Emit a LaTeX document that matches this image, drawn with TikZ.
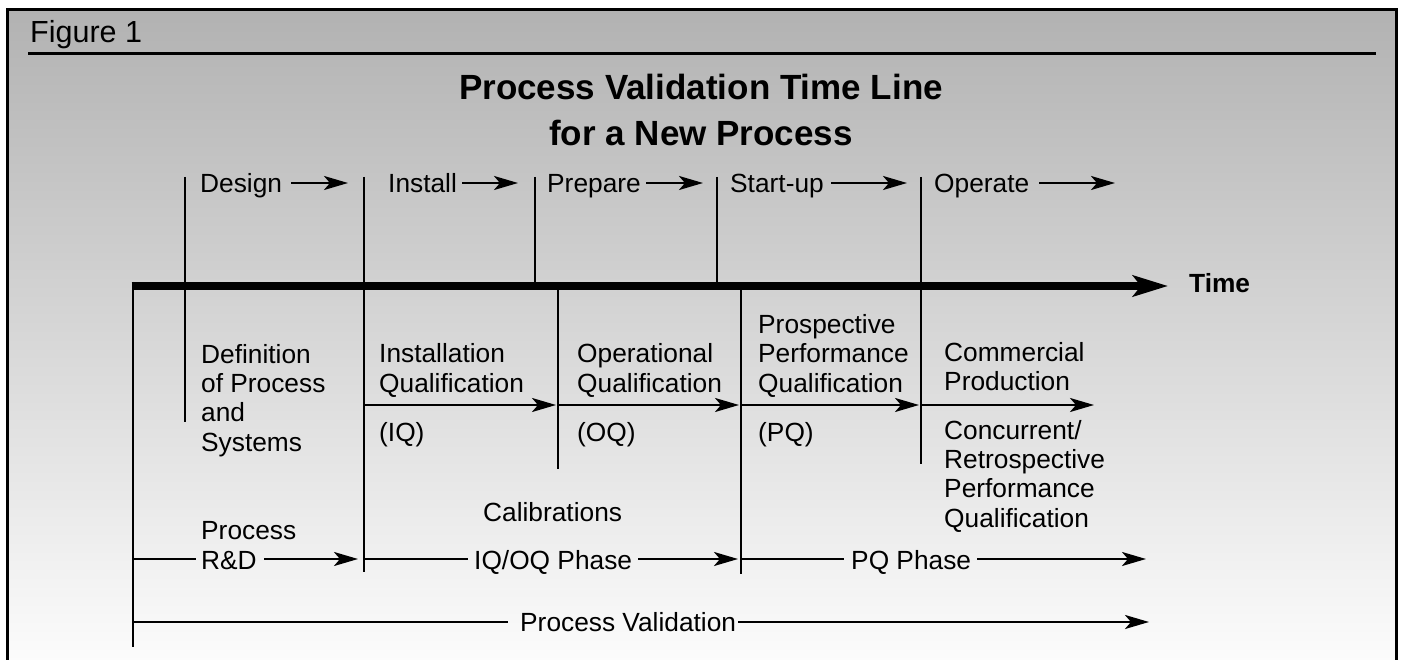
\documentclass[tikz,border=0pt]{standalone}
\usepackage{fontspec}
\setmainfont{Liberation Sans}
\usetikzlibrary{arrows.meta}

\definecolor{bgtop}{RGB}{178,178,178}
\definecolor{bgbot}{RGB}{254,254,254}

\begin{document}
\begin{tikzpicture}[x=1pt,y=-1pt,
  lbl/.style={inner sep=0pt, anchor=base west, align=left,
              font=\fontsize{26.3}{29.3}\selectfont},
  marker/.style={line width=2.8pt},
  rule/.style={line width=2.6pt},
  flow/.style={line width=2.6pt, -{Stealth[length=24pt,width=14pt,inset=6pt]}},
  axis/.style={line width=8pt, -{Stealth[length=35pt,width=21pt,inset=8pt]}},
]
\useasboundingbox (0,0) rectangle (1401,660);

% panel with its grey-to-white fade and frame
\shade[top color=bgtop, bottom color=bgbot] (7,9.5) rectangle (1396,680);
\draw[line width=3pt] (7,680) -- (7,9.5) -- (1396,9.5) -- (1396,680);

% caption and rule
\node[inner sep=0pt, anchor=base west, font=\fontsize{30.5}{34}\selectfont] (fig) at (30,43) {Figure 1};
\coordinate (ruleL) at (28,53.5);
\coordinate (ruleR) at (1376,53.5);
\draw[line width=3pt] (ruleL) -- (ruleR);

% title (multi-line nodes sit on the baseline of their last line)
\node[inner sep=0pt, anchor=base, align=center, font=\fontsize{35}{46}\selectfont\bfseries]
  (title) at (701,146) {Process Validation Time Line\\for a New Process};

% phase markers
\coordinate (vDt) at (185,177);  \coordinate (vDb) at (185,422);
\coordinate (vIt) at (364,177);  \coordinate (vIb) at (364,572);
\coordinate (vPt) at (535,177);  \coordinate (vPb) at (535,286);
\coordinate (vSt) at (717,177);  \coordinate (vSb) at (717,286);
\coordinate (vOt) at (921,177);  \coordinate (vOb) at (921,464);
\coordinate (vQt) at (558,286);  \coordinate (vQb) at (558,469);
\coordinate (vRt) at (741,286);  \coordinate (vRb) at (741,574);
\coordinate (vLt) at (133,282);  \coordinate (vLb) at (133,647);
\foreach \m in {D,I,P,S,O,Q,R,L} \draw[marker] (v\m t) -- (v\m b);

% time axis
\coordinate (axisL) at (131.6,286);
\coordinate (axisR) at (1168,286);
\draw[axis] (axisL) -- (axisR);
\node[lbl, font=\fontsize{26.3}{29.3}\selectfont\bfseries] (time) at (1189,293) {Time};

% stage labels above the axis
\node[lbl] (design)  at (200,193) {Design};
\node[lbl] (install) at (388,193) {Install};
\node[lbl] (prepare) at (547,193) {Prepare};
\node[lbl] (startup) at (730,193) {Start-up};
\node[lbl] (operate) at (934,193) {Operate};
\coordinate (designTip)  at (348,183);
\coordinate (installTip) at (518,183);
\coordinate (prepareTip) at (703,183);
\coordinate (startupTip) at (907,183);
\coordinate (operateTip) at (1115,183);
\draw[flow] (291,183) -- (designTip);
\draw[flow] (462,183) -- (installTip);
\draw[flow] (646,183) -- (prepareTip);
\draw[flow] (831,183) -- (startupTip);
\draw[flow] (1039,183) -- (operateTip);

% qualification stages below the axis
\node[lbl] (defn)   at (201,451) {Definition\\of Process\\and\\Systems};
\node[lbl] (iq)     at (379,392) {Installation\\Qualification};
\node[lbl] (iqabbr) at (379,441) {(IQ)};
\node[lbl] (oq)     at (577,392) {Operational\\Qualification};
\node[lbl] (oqabbr) at (577,441) {(OQ)};
\node[lbl] (pq)     at (758,392) {Prospective\\Performance\\Qualification};
\node[lbl] (pqabbr) at (758,441) {(PQ)};
\node[lbl] (comm)   at (944,391) {Commercial\\Production};
\node[lbl] (conc)   at (944,527) {Concurrent/\\Retrospective\\Performance\\Qualification};
\coordinate (iqTip)   at (556,405);
\coordinate (oqTip)   at (739,405);
\coordinate (pqTip)   at (919,405);
\coordinate (commTip) at (1094,405);
\draw[flow] (vIt |- iqTip) -- (iqTip);
\draw[flow] (vQt |- oqTip) -- (oqTip);
\draw[flow] (vRt |- pqTip) -- (pqTip);
\draw[flow] (vOt |- commTip) -- (commTip);

% phase bars
\node[lbl] (calib) at (483,521) {Calibrations};
\node[lbl] (rnd)   at (201,569) {Process\\R\&D};
\node[lbl] (iqoq)  at (474,569) {IQ/OQ Phase};
\node[lbl] (pqph)  at (851,569) {PQ Phase};
\coordinate (rndL)  at (196,559);
\coordinate (rndTip) at (358,559);
\coordinate (iqoqL) at (468,559);
\coordinate (iqoqTip) at (738,559);
\coordinate (pqL)   at (844,559);
\coordinate (pqTip2) at (1146,559);
\draw[rule] (vLt |- rndL) -- (rndL);
\draw[flow] (264,559) -- (rndTip);
\draw[rule] (vIt |- iqoqL) -- (iqoqL);
\draw[flow] (638,559) -- (iqoqTip);
\draw[rule] (vRt |- pqL) -- (pqL);
\draw[flow] (977,559) -- (pqTip2);

% overall validation bar
\node[lbl] (pv) at (520,631) {Process Validation};
\coordinate (pvL)   at (508,622);
\coordinate (pvTip) at (1149,622);
\draw[rule] (vLt |- pvL) -- (pvL);
\draw[flow] (738,622) -- (pvTip);
\end{tikzpicture}
\end{document}
